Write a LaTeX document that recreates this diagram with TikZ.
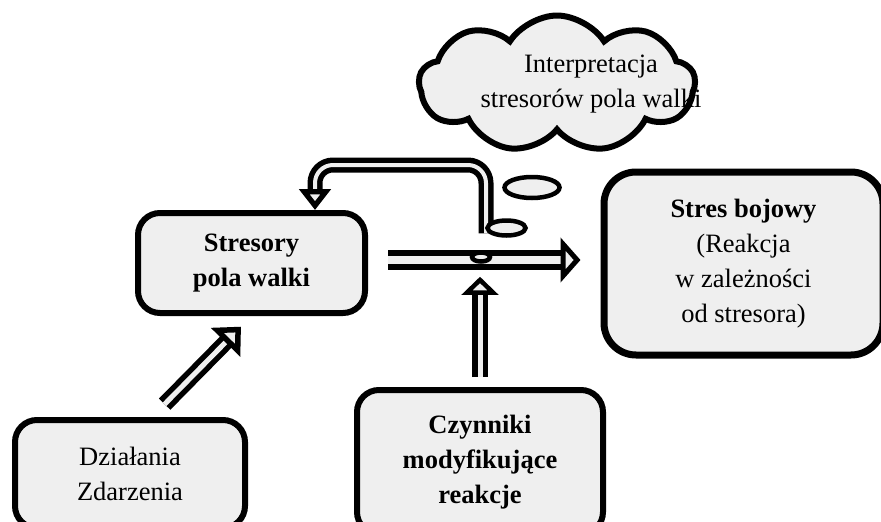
\documentclass[tikz,border=0pt]{standalone}
\usepackage{fontspec}
\setmainfont{Liberation Serif}
\usepackage{tikz}
\usetikzlibrary{arrows.meta}
\usetikzlibrary{shapes.geometric,shapes.symbols}
\definecolor{boxfill}{HTML}{EFEFEF}
\begin{document}
\begin{tikzpicture}[x=1pt,y=-1pt,
	box/.style={draw, fill=boxfill, line width=6pt, rounded corners=22pt, align=center, inner sep=0pt, font=\fontsize{26.5}{35}\selectfont},
	bubble/.style={draw, fill=boxfill, ellipse, line width=4.5pt, inner sep=0pt},
	hollow/.style n args={3}{draw=boxfill, line width=#2, line cap=butt, preaction={draw=black, line width=#1, arrows=-, shorten >=#3}},
	arrowhead/.style 2 args={-{Triangle[length=#1, width=#2, fill=boxfill, color=black, line width=5.5pt]}}]
	\useasboundingbox (0,0) rectangle (881,522);
	\clip (0,0) rectangle (881,522);
	\node [cloud, cloud puffs=9, cloud puff arc=115, aspect=2, draw, fill=boxfill, line width=6pt, minimum width=276pt, minimum height=137pt] (cloud) at (557,84) {};
	\node [align=center, font=\fontsize{26.5}{35}\selectfont] (interp) at (591,84) {Interpretacja\\stresorów pola walki};
	\node [box, minimum width=227pt, minimum height=100pt] (stres) at (251.5,263) {\textbf{Stresory}\\\textbf{pola walki}};
	\node [box, minimum width=230pt, minimum height=108pt] (dzial) at (130,474) {Działania\\Zdarzenia};
	\node [box, minimum width=246pt, minimum height=144pt] (czyn) at (480,462) {\textbf{Czynniki}\\\textbf{modyfikujące}\\\textbf{reakcje}};
	\node [box, rounded corners=32pt, line width=7pt, minimum width=279pt, minimum height=183pt] (reak) at (743.5,263.5) {\textbf{Stres bojowy}\\(Reakcja\\w zależności\\od stresora)};
	\node [bubble, minimum width=18pt, minimum height=9pt] (knot) at (481,257) {};
	\draw [hollow={20pt}{8pt}{38pt}, arrowhead={20pt}{44pt}, shorten <=20pt, shorten >=20pt] ([yshift=3pt]stres.east) -- ([yshift=3pt]stres.east -| reak.west);
	\draw [hollow={16pt}{5pt}{30pt}, arrowhead={18pt}{36pt}, shorten <=10pt, shorten >=13pt] (czyn.north) -- (czyn.north |- knot.south);
	\draw [hollow={16pt}{5pt}{36pt}, arrowhead={22pt}{40pt}, shorten <=18pt, shorten >=15pt] ([xshift=22pt]dzial.north) -- (stres.south);
	\draw [hollow={15pt}{4pt}{19pt}, arrowhead={21pt}{31pt}, rounded corners=18pt, shorten <=17pt] ([xshift=5pt]knot.north) |- ([shift={(63.5,-45)}]stres.north) -- ([xshift=63.5pt]stres.north);
	\node [bubble, minimum width=55pt, minimum height=21pt] (thought) at (532,187.5) {};
	\node [bubble, minimum width=38pt, minimum height=15pt] (thought2) at (506.5,228) {};
	\node [bubble, minimum width=18pt, minimum height=9pt] at (knot) {};
\end{tikzpicture}
\end{document}
